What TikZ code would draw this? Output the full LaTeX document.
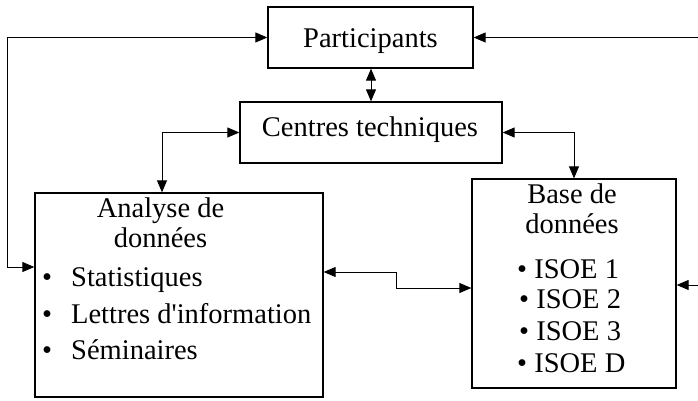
\documentclass[tikz,border=0pt]{standalone}
\usepackage{fontspec}
\setmainfont{Liberation Serif}
\usetikzlibrary{arrows.meta}

\begin{document}
\begin{tikzpicture}[x=1pt,y=-1pt,
    box/.style={draw, line width=1.3pt, inner sep=0pt},
    lbl/.style={font=\fontsize{28.5}{30}\selectfont, inner sep=0pt, anchor=base},
    item/.style={lbl, anchor=base west},
    arr/.style={-{Triangle[length=12pt,width=10pt]}, line width=0.9pt},
    dbl/.style={{Triangle[length=12pt,width=10pt]}-{Triangle[length=12pt,width=10pt]}, line width=0.9pt}]
\useasboundingbox (0,0) rectangle (698,401);

    \node[box, minimum width=205pt, minimum height=61pt] (part) at (370.5,37.5) {};
    \node[lbl] (partT) at (370.5,48) {Participants};

    \node[box, minimum width=262pt, minimum height=61pt] (cent) at (371,132.5) {};
    \node[lbl] (centT) at (370,136) {Centres techniques};

    \node[box, minimum width=288pt, minimum height=204pt] (ana) at (179,295) {};
    \node[lbl] (anaT1) at (160.5,217) {Analyse de};
    \node[lbl] (anaT2) at (160.5,247) {données};
    \node[item] (ana1) at (42,286) {•\hspace{19pt}Statistiques};
    \node[item] (ana2) at (42,323) {•\hspace{19pt}Lettres d\textquotesingle information};
    \node[item] (ana3) at (42,359) {•\hspace{19pt}Séminaires};

    \node[box, minimum width=204pt, minimum height=209pt] (base) at (574,283.5) {};
    \node[lbl] (baseT1) at (572,203) {Base de};
    \node[lbl] (baseT2) at (572,233) {données};
    \node[item] (base1) at (517,278) {• ISOE 1};
    \node[item] (base2) at (519,308) {• ISOE 2};
    \node[item] (base3) at (519,340) {• ISOE 3};
    \node[item] (base4) at (517,372) {• ISOE D};

%   bends and loose ends
    \coordinate (lb) at (7,267);
    \coordinate (rt) at (698,37.5);
    \coordinate (rb) at (698,285);
    \coordinate (ca) at (162,132.5);
    \coordinate (m1) at (396,272);
    \coordinate (m2) at (396,288);

    \draw[dbl] (part.west) -| (lb) -- (ana.west |- lb);
    \draw[arr] (rt) -- (part.east);
    \draw[arr] (rb) -- (base.east |- rb);
    \draw[dbl] (part.south -| cent) -- (cent.north);
    \draw[dbl] (cent.west) -| (ca |- ana.north);
    \draw[dbl] (cent.east) -| (base.north);
    \draw[dbl] (ana.east |- m1) -- (m1) -- (m2) -- (base.west |- m2);

\end{tikzpicture}
\end{document}
